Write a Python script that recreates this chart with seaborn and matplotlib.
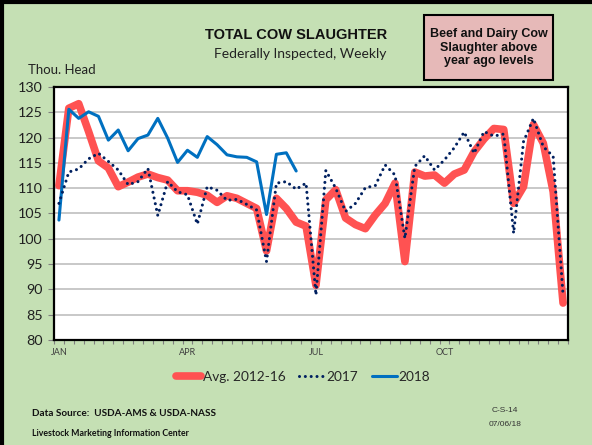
import numpy as np
import pandas as pd
import seaborn as sns
import matplotlib.pyplot as plt
from matplotlib.lines import Line2D
from matplotlib.patches import Rectangle

# weekly values, thousand head (week 1 = first week of JAN)
avg_2012_16 = [110.5, 125.8, 126.7, 121.2, 115.4, 114.0, 110.3, 111.2, 112.2, 112.8,
               112.1, 111.6, 109.5, 109.5, 109.2, 108.6, 107.2, 108.5, 108.0, 107.0,
               106.0, 97.6, 108.0, 106.0, 103.3, 102.5, 90.8, 107.7, 109.7, 104.1,
               102.8, 102.0, 104.7, 107.0, 111.0, 95.5, 113.2, 112.4, 112.6, 111.0,
               112.8, 113.6, 117.2, 119.7, 121.8, 121.6, 107.0, 110.3, 122.6, 118.9,
               109.3, 87.3]
y2017 = [107.0, 113.2, 113.8, 115.8, 116.9, 115.3, 113.6, 110.7, 111.3, 113.9,
         104.6, 111.3, 109.3, 108.7, 102.9, 110.3, 109.6, 107.6, 107.8, 106.8,
         105.7, 95.5, 111.0, 111.3, 109.8, 111.0, 88.9, 113.5, 110.0, 105.4,
         107.0, 110.1, 110.5, 114.6, 112.6, 100.1, 114.3, 116.4, 113.6, 115.6,
         118.0, 121.1, 116.9, 121.2, 120.3, 120.7, 101.1, 119.2, 123.8, 118.2,
         116.3, 88.9]
y2018 = [103.7, 125.6, 123.8, 125.1, 124.2, 119.5, 121.5, 117.4, 119.8, 120.5,
         123.8, 119.9, 115.1, 117.5, 116.1, 120.2, 118.6, 116.6, 116.2, 116.1,
         115.2, 104.8, 116.7, 117.0, 113.4]
month_labels = ["JAN", "APR", "JUL", "OCT"]
month_weeks = [0, 13, 26, 39]

df = pd.DataFrame({"week": np.arange(len(avg_2012_16)), "avg": avg_2012_16, "y2017": y2017})
df18 = pd.DataFrame({"week": np.arange(len(y2018)), "y2018": y2018})

sns.set_theme(style="white")
plt.rcParams["font.family"] = ["Lato", "DejaVu Sans"]

bg = "#C5E0B4"
red = "#FF5252"
navy = "#002060"
blue = "#0070C0"

fig = plt.figure(figsize=(5.92, 4.45), dpi=100, facecolor=bg)
ax = fig.add_axes([54 / 592, 1 - 340 / 445, 514 / 592, 253 / 445])
ax.set_facecolor("white")

sns.lineplot(data=df, x="week", y="avg", ax=ax, color=red, linewidth=5.5,
             solid_capstyle="round", solid_joinstyle="round", label="Avg. 2012-16")
sns.lineplot(data=df18, x="week", y="y2018", ax=ax, color=blue, linewidth=2.2,
             label="2018")
sns.lineplot(data=df, x="week", y="y2017", ax=ax, color=navy, linewidth=2.2,
             linestyle=(0, (0.01, 1.9)), dash_capstyle="round", label="2017")

ax.set_xlim(-0.5, len(avg_2012_16) - 0.5)
ax.set_ylim(80, 130)
ax.set_yticks(np.arange(80, 131, 5))
ax.yaxis.grid(True, color="#BFBFBF", linewidth=1.2)
ax.set_axisbelow(True)

ax.set_xticks(month_weeks)
ax.set_xticklabels(month_labels, fontsize=6.5, color="#404040")
ax.set_xticks(np.arange(-0.5, len(avg_2012_16)), minor=True)
ax.tick_params(axis="x", which="major", length=0, pad=6)
ax.tick_params(axis="x", which="minor", length=3, width=0.8, color="#808080",
               direction="out", bottom=True)
ax.tick_params(axis="y", length=4, width=0.8, color="#808080", direction="out",
               left=True, labelsize=10.3, labelcolor="#202020", pad=4)
ax.set_xlabel("")
ax.set_ylabel("")
for s in ax.spines.values():
    s.set_color("black")
    s.set_linewidth(1.6)

# legend below the plot, ordered as in the source
h, l = ax.get_legend_handles_labels()
order = [l.index("Avg. 2012-16"), l.index("2017"), l.index("2018")]
ax.get_legend().remove()
fig.legend([h[i] for i in order], [l[i] for i in order], loc="center",
           bbox_to_anchor=(303 / 592, 1 - 377 / 445), ncol=3, frameon=False,
           fontsize=9.8, handlelength=1.9, handletextpad=0.1, columnspacing=1.0)

# titles
fig.text(296 / 592, 1 - 35 / 445, "TOTAL COW SLAUGHTER", ha="center", va="center",
         fontsize=10.5, fontweight="bold", family="Liberation Sans", color="#111111")
fig.text(300 / 592, 1 - 54 / 445, "Federally Inspected, Weekly", ha="center", va="center",
         fontsize=10, color="#222222")
fig.text(28 / 592, 1 - 70 / 445, "Thou. Head", ha="left", va="center", fontsize=9.5,
         color="#222222")

# call-out box
fig.patches.append(Rectangle((424 / 592, 1 - 80 / 445), 129 / 592, 65 / 445,
                             transform=fig.transFigure, facecolor="#E6B9B8",
                             edgecolor="black", linewidth=1.5))
fig.text(488.5 / 592, 1 - 47.5 / 445, "Beef and Dairy Cow\nSlaughter above\nyear ago levels",
         ha="center", va="center", fontsize=9, fontweight="bold",
         family="Liberation Sans", linespacing=1.15, color="#111111")

# footer
fig.text(32 / 592, 1 - 413 / 445, "Data Source:  USDA-AMS & USDA-NASS", ha="left",
         va="center", fontsize=7.2, fontweight="bold", color="#111111")
fig.text(32 / 592, 1 - 433 / 445, "Livestock Marketing Information Center", ha="left",
         va="center", fontsize=6.3, fontweight="bold", color="#111111")
fig.text(505 / 592, 1 - 411 / 445, "C-S-14", ha="center", va="center", fontsize=6,
         family="Liberation Sans", color="#333333")
fig.text(505 / 592, 1 - 425 / 445, "07/06/18", ha="center", va="center", fontsize=6,
         family="Liberation Sans", color="#333333")

# slide frame on left and top
fig.lines.append(Line2D([2 / 592, 2 / 592], [0, 1], transform=fig.transFigure,
                        color="black", linewidth=3))
fig.lines.append(Line2D([0, 1], [1 - 2 / 445, 1 - 2 / 445], transform=fig.transFigure,
                        color="black", linewidth=3))

fig.savefig("out.png", dpi=100, facecolor=bg)
